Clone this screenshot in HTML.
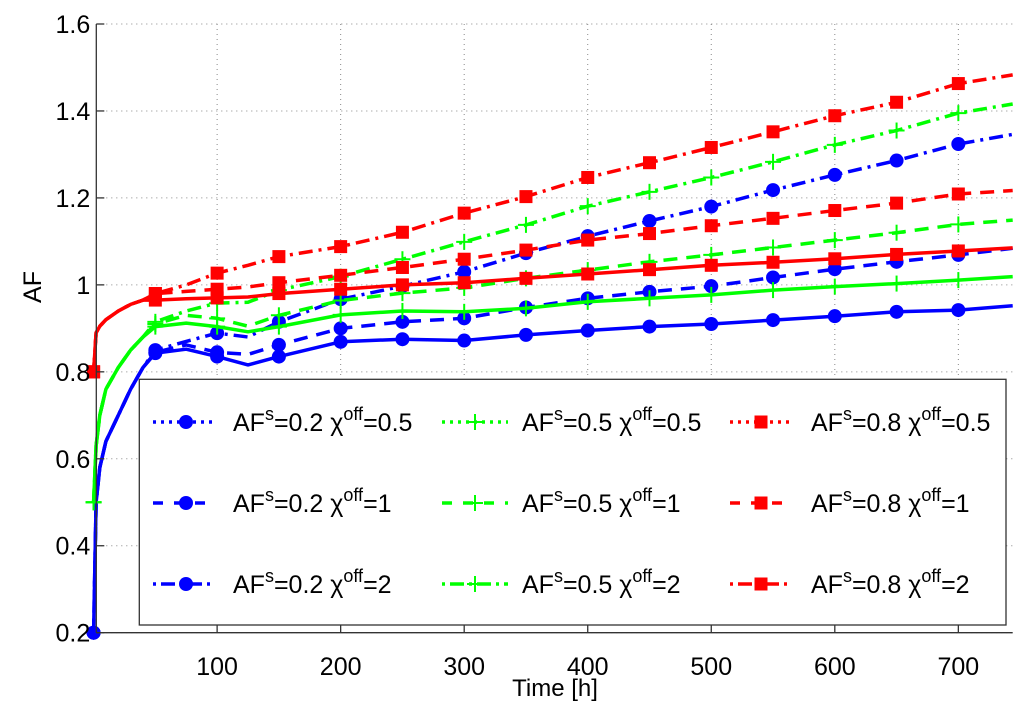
<!DOCTYPE html>
<html><head><meta charset="utf-8"><style>
html,body{margin:0;padding:0;background:#fff;}
svg{display:block;font-family:"Liberation Sans",Arial,sans-serif;}
</style></head><body>
<svg id="chart" width="1024" height="705" viewBox="0 0 1024 705" xmlns="http://www.w3.org/2000/svg"></svg>
<script>
const times = [0,2,5,10,20,30,40,50,75,100,125,150,200,250,300,350,400,450,500,550,600,650,700,744];
const blueSolid  = [0.2,0.5,0.58,0.64,0.7,0.76,0.81,0.843,0.852,0.835,0.816,0.835,0.869,0.875,0.872,0.885,0.895,0.904,0.91,0.919,0.928,0.938,0.942,0.952];
const blueDash   = [0.2,0.5,0.58,0.64,0.7,0.76,0.81,0.845,0.862,0.845,0.84,0.862,0.9,0.915,0.923,0.948,0.969,0.984,0.997,1.017,1.036,1.053,1.069,1.084];
const blueDashDot= [0.2,0.5,0.58,0.64,0.7,0.76,0.81,0.85,0.87,0.889,0.88,0.915,0.967,0.997,1.03,1.073,1.112,1.147,1.18,1.218,1.253,1.286,1.324,1.346];
const greenSolid = [0.5,0.63,0.7,0.76,0.81,0.85,0.88,0.904,0.912,0.904,0.892,0.904,0.931,0.94,0.938,0.946,0.961,0.969,0.977,0.988,0.996,1.003,1.011,1.019];
const greenDash  = [0.5,0.63,0.7,0.76,0.81,0.85,0.88,0.91,0.93,0.923,0.905,0.93,0.964,0.981,0.993,1.015,1.034,1.053,1.069,1.086,1.103,1.12,1.139,1.149];
const greenDashDot=[0.5,0.63,0.7,0.76,0.81,0.85,0.88,0.915,0.94,0.958,0.96,0.988,1.019,1.059,1.099,1.138,1.181,1.214,1.247,1.283,1.322,1.355,1.395,1.416];
const redSolid   = [0.8,0.89,0.905,0.92,0.94,0.955,0.965,0.965,0.968,0.97,0.972,0.98,0.99,1.0,1.005,1.015,1.025,1.035,1.045,1.052,1.06,1.07,1.078,1.085];
const redDash    = [0.8,0.89,0.905,0.92,0.94,0.955,0.965,0.98,0.985,0.99,0.995,1.005,1.022,1.04,1.059,1.08,1.103,1.118,1.136,1.153,1.171,1.188,1.209,1.217];
const redDashDot = [0.8,0.89,0.905,0.92,0.94,0.955,0.965,0.98,1.0,1.027,1.045,1.065,1.088,1.121,1.165,1.203,1.247,1.281,1.316,1.352,1.389,1.42,1.463,1.483];
const xTicks = [100,200,300,400,500,600,700];
const yTicks = [0.2,0.4,0.6,0.8,1.0,1.2,1.4,1.6];
const yTickLabels = ["0.2","0.4","0.6","0.8","1","1.2","1.4","1.6"];

const NS="http://www.w3.org/2000/svg";
const svg=document.getElementById('chart');
const L=96.3,R=1012.7,T=24,B=632.7;
const X0=2.2,X1=744,Y0=0.2,Y1=1.6;
function xs(t){return L+(t-X0)/(X1-X0)*(R-L);}
function ys(v){return B-(v-Y0)/(Y1-Y0)*(B-T);}
function mk(tag,attrs,parent){const e=document.createElementNS(NS,tag);for(const k in attrs)e.setAttribute(k,attrs[k]);(parent||svg).appendChild(e);return e;}

const grid=mk('g',{});


xTicks.forEach(t=>{mk('line',{x1:xs(t),x2:xs(t),y1:T,y2:B,stroke:'#888','stroke-width':1,'stroke-dasharray':'1,4'},grid);});
yTicks.forEach(v=>{mk('line',{x1:L,x2:R,y1:ys(v),y2:ys(v),stroke:'#888','stroke-width':1,'stroke-dasharray':'1,4'},grid);});

const series=[
 {name:'blue-chi-0.5',c:'#0000ff',d:blueSolid,dash:'',m:'circle'},
 {name:'blue-chi-1',c:'#0000ff',d:blueDash,dash:'14,9',m:'circle'},
 {name:'blue-chi-2',c:'#0000ff',d:blueDashDot,dash:'14,6,3,6',m:'circle'},
 {name:'green-chi-0.5',c:'#00ff00',d:greenSolid,dash:'',m:'plus'},
 {name:'green-chi-1',c:'#00ff00',d:greenDash,dash:'14,9',m:'plus'},
 {name:'green-chi-2',c:'#00ff00',d:greenDashDot,dash:'14,6,3,6',m:'plus'},
 {name:'red-chi-0.5',c:'#ff0000',d:redSolid,dash:'',m:'square'},
 {name:'red-chi-1',c:'#ff0000',d:redDash,dash:'14,9',m:'square'},
 {name:'red-chi-2',c:'#ff0000',d:redDashDot,dash:'14,6,3,6',m:'square'}
];
function marker(type,x,y,c,g){
 if(type==='circle') mk('circle',{cx:x,cy:y,r:7,fill:c},g);
 else if(type==='square') mk('rect',{x:x-6.5,y:y-6.5,width:13,height:13,fill:c},g);
 else {mk('line',{x1:x-8,x2:x+8,y1:y,y2:y,stroke:c,'stroke-width':2},g);mk('line',{x1:x,x2:x,y1:y-8,y2:y+8,stroke:c,'stroke-width':2},g);}
}
series.forEach(s=>{
 const g=mk('g',{});
 
 
 const pts=times.map((t,i)=>xs(t).toFixed(1)+','+ys(s.d[i]).toFixed(1)).join(' ');
 const a={points:pts,fill:'none',stroke:s.c,'stroke-width':3.5,'stroke-linejoin':'round'};
 if(s.dash)a['stroke-dasharray']=s.dash;
 mk('polyline',a,g);
 times.forEach((t,i)=>{if(t%50===0)marker(s.m,xs(t),ys(s.d[i]),s.c,g);});
});

const ax=mk('g',{});


mk('line',{x1:L,x2:L,y1:T,y2:B,stroke:'#333','stroke-width':1.3},ax);
mk('line',{x1:L,x2:R,y1:B,y2:B,stroke:'#333','stroke-width':1.3},ax);
xTicks.forEach(t=>{
 mk('line',{x1:xs(t),x2:xs(t),y1:B,y2:B-8,stroke:'#333','stroke-width':1.3},ax);
 const tx=mk('text',{x:xs(t),y:675,'text-anchor':'middle','font-size':25,fill:'#000'},ax);
 tx.textContent=t;
 
 
});
yTicks.forEach((v,i)=>{
 mk('line',{x1:L,x2:L+8,y1:ys(v),y2:ys(v),stroke:'#333','stroke-width':1.3},ax);
 const tx=mk('text',{x:L-6,y:ys(v)+9,'text-anchor':'end','font-size':25,fill:'#000'},ax);
 tx.textContent=yTickLabels[i];
 
 
});
const xt=mk('text',{x:555,y:696,'text-anchor':'middle','font-size':24,fill:'#000'});
xt.textContent='Time [h]';


const yt=mk('text',{x:41,y:287,'text-anchor':'middle','font-size':25,fill:'#000',transform:'rotate(-90 41 287)'});
yt.textContent='AF';



const lg=mk('g',{});


mk('rect',{x:139.3,y:379.3,width:866.7,height:245.7,fill:'#fff',stroke:'#333','stroke-width':1.3},lg);
const colX=[[153,213,186,233],[442,508,475,522],[730,792,761,811]];
const rowY=[422,503,584];
const legAF=['0.2','0.5','0.8'];
const legChi=['0.5','1','2'];
series.forEach((s,i)=>{
 const col=Math.floor(i/3),row=i%3;
 const [x1,x2,xm,xt2]=colX[col];const y=rowY[row];
 const e=mk('g',{},lg);
 
 
 const a={x1:x1,x2:x2,y1:y,y2:y,stroke:s.c,'stroke-width':3.5};
 a['stroke-dasharray']= row===0?'3,5':(row===1?'10,11':'3,5,14,5');
 mk('line',a,e);
 marker(s.m,xm,y,s.c,e);
 const t=mk('text',{x:xt2,y:y+9,'font-size':25,fill:'#000'},e);
 t.innerHTML='AF<tspan dy="-11" font-size="18">s</tspan><tspan dy="11">=' + legAF[col] + ' \u03C7</tspan><tspan dy="-11" font-size="18">off</tspan><tspan dy="11">=' + legChi[row] + '</tspan>';
});
</script>
</body></html>
